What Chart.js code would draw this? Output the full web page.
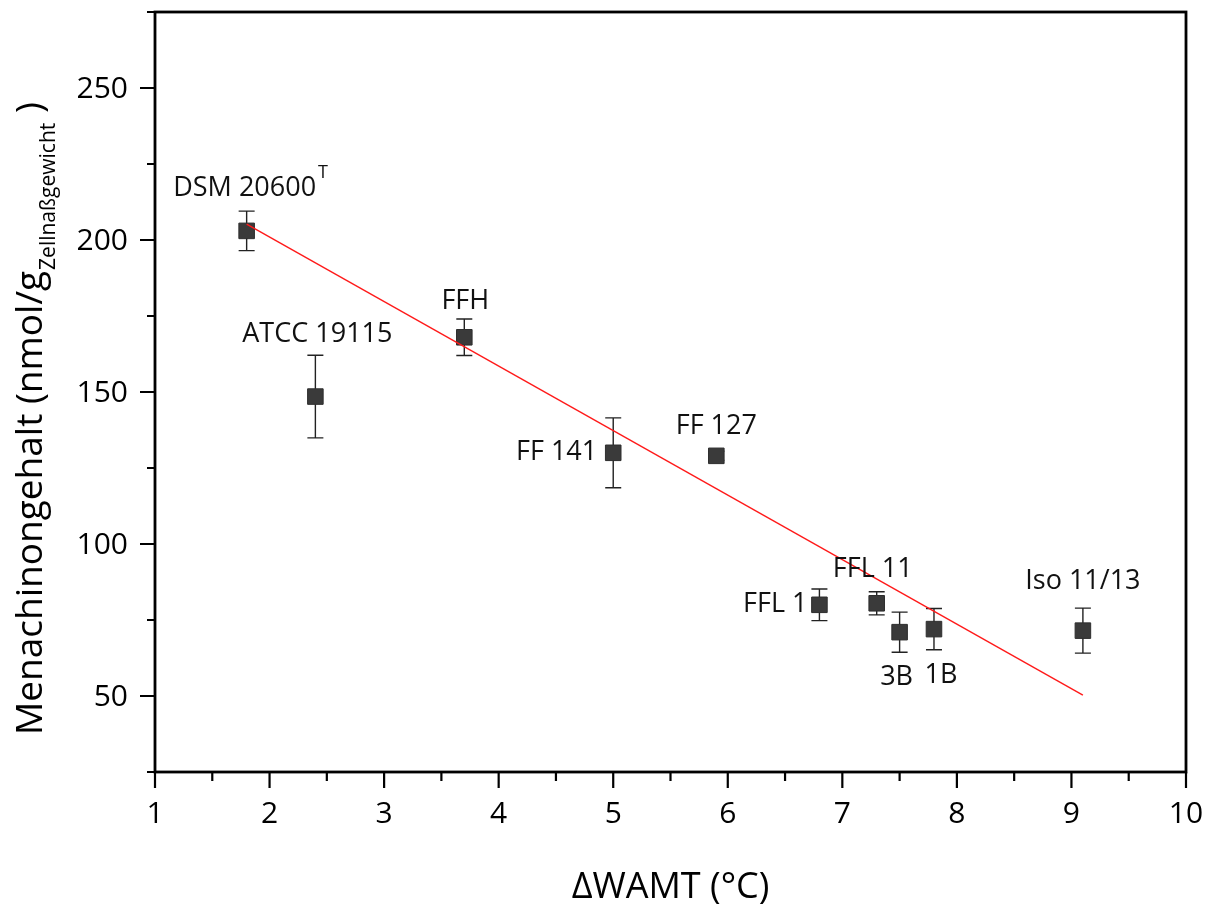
<!DOCTYPE html>
<html lang="de">
<head>
  <meta charset="UTF-8">
  <title>Menachinongehalt vs. ΔWAMT</title>
  <script src="https://cdn.jsdelivr.net/npm/chart.js"></script>
  <style>
    html, body { margin: 0; padding: 0; background: #fff; }
    #wrap { width: 1210px; height: 905px; position: relative; }
  </style>
</head>
<body>
  <div id="wrap"><canvas id="graf"></canvas></div>

  <script>
    /* ---------- Daten ---------- */
    const strains    = ['DSM 20600', 'ATCC 19115', 'FFH', 'FF 141', 'FF 127',
                        'FFL 1', 'FFL 11', '3B', '1B', 'Iso 11/13'];
    const strainSup  = ['T', '', '', '', '', '', '', '', '', ''];
    const deltaWamt  = [1.8, 2.4, 3.7, 5.0, 5.9, 6.8, 7.3, 7.5, 7.8, 9.1];
    const menachinon = [203, 148.5, 168, 130, 129, 80, 80.5, 71, 72, 71.5];
    const fehler     = [6.5, 13.6, 6, 11.5, 1.5, 5.2, 3.8, 6.6, 6.8, 7.4];

    // lineare Regression (Endpunkte)
    const fitX = [1.8, 9.1];
    const fitY = [205.2, 50.3];

    const xMajor = [1, 2, 3, 4, 5, 6, 7, 8, 9, 10];
    const yMajor = [50, 100, 150, 200, 250];

    /* ---------- Beschriftungs-Positionen (px relativ zum Punkt) ---------- */
    const labelPos = [
      { dx: -2,  dy: -43, align: 'center' },
      { dx: 2,   dy: -62, align: 'center' },
      { dx: 1,   dy: -36, align: 'center' },
      { dx: -16, dy: 0,   align: 'right'  },
      { dx: 0,   dy: -30, align: 'center' },
      { dx: -12, dy: 0,   align: 'right'  },
      { dx: -4,  dy: -34, align: 'center' },
      { dx: -3,  dy: 45,  align: 'center' },
      { dx: 7,   dy: 46,  align: 'center' },
      { dx: 0,   dy: -49, align: 'center' }
    ];

    const FONT = '"Open Sans", "Noto Sans", sans-serif';

    /* ---------- Plugin: Fehlerbalken ---------- */
    const errorBars = {
      id: 'errorBars',
      beforeDatasetsDraw(chart) {
        const { ctx, scales: { x, y } } = chart;
        ctx.save();
        ctx.strokeStyle = '#222';
        ctx.lineWidth = 1.4;
        deltaWamt.forEach((v, i) => {
          const px = x.getPixelForValue(v);
          const top = y.getPixelForValue(menachinon[i] + fehler[i]);
          const bot = y.getPixelForValue(menachinon[i] - fehler[i]);
          ctx.beginPath();
          ctx.moveTo(px, top); ctx.lineTo(px, bot);
          ctx.moveTo(px - 8, top); ctx.lineTo(px + 8, top);
          ctx.moveTo(px - 8, bot); ctx.lineTo(px + 8, bot);
          ctx.stroke();
        });
        ctx.restore();
      }
    };

    /* ---------- Plugin: Rahmen, Ticks, Titel, Labels ---------- */
    const deko = {
      id: 'deko',
      afterDraw(chart) {
        const { ctx, chartArea: a, scales: { x, y } } = chart;
        ctx.save();

        // Rahmen
        ctx.strokeStyle = '#000';
        ctx.lineWidth = 2.8;
        ctx.strokeRect(a.left, a.top, a.right - a.left, a.bottom - a.top);

        // Ticks
        ctx.lineWidth = 2.2;
        ctx.beginPath();
        y.ticks.forEach(t => {
          const py = y.getPixelForValue(t.value);
          const len = yMajor.includes(t.value) ? 15 : 8;
          ctx.moveTo(a.left - len, py); ctx.lineTo(a.left, py);
        });
        x.ticks.forEach(t => {
          const px = x.getPixelForValue(t.value);
          const len = xMajor.includes(t.value) ? 16 : 9;
          ctx.moveTo(px, a.bottom); ctx.lineTo(px, a.bottom + len);
        });
        ctx.stroke();

        // Tick-Beschriftung
        ctx.fillStyle = '#000';
        ctx.font = '30px ' + FONT;
        ctx.textBaseline = 'middle';
        ctx.textAlign = 'right';
        yMajor.forEach(v => ctx.fillText(String(v), a.left - 27, y.getPixelForValue(v) + 1));
        ctx.textAlign = 'center';
        xMajor.forEach(v => ctx.fillText(String(v), x.getPixelForValue(v), a.bottom + 42));

        // Punkt-Beschriftungen
        ctx.fillStyle = '#111';
        strains.forEach((s, i) => {
          const p = labelPos[i];
          const px = x.getPixelForValue(deltaWamt[i]) + p.dx;
          const py = y.getPixelForValue(menachinon[i]) + p.dy;
          ctx.font = '27px ' + FONT;
          ctx.textAlign = p.align;
          ctx.fillText(s, px, py);
          if (strainSup[i]) {
            const w = ctx.measureText(s).width;
            const right = p.align === 'center' ? px + w / 2 : (p.align === 'right' ? px : px + w);
            ctx.font = '18px ' + FONT;
            ctx.textAlign = 'left';
            ctx.fillText(strainSup[i], right + 2, py - 15);
          }
        });

        // x-Achsentitel
        ctx.fillStyle = '#000';
        ctx.font = '36px ' + FONT;
        ctx.textAlign = 'center';
        ctx.textBaseline = 'alphabetic';
        ctx.fillText('\u0394WAMT (\u00B0C)', (a.left + a.right) / 2, 898);

        // y-Achsentitel mit Index
        ctx.translate(42, 735);
        ctx.rotate(-Math.PI / 2);
        ctx.textAlign = 'left';
        ctx.font = '37px ' + FONT;
        const t1 = 'Menachinongehalt (nmol/g';
        ctx.fillText(t1, 0, 0);
        let off = ctx.measureText(t1).width + 1;
        ctx.font = '21px ' + FONT;
        const t2 = 'Zellna\u00DFgewicht';
        ctx.fillText(t2, off, 13);
        off += ctx.measureText(t2).width;
        ctx.font = '37px ' + FONT;
        ctx.fillText(' )', off, 0);

        ctx.restore();
      }
    };

    /* ---------- Diagramm ---------- */
    new Chart(document.getElementById('graf'), {
      type: 'scatter',
      data: {
        datasets: [
          {
            type: 'line',
            label: 'Fit',
            data: fitX.map((v, i) => ({ x: v, y: fitY[i] })),
            borderColor: '#ff1a1a',
            borderWidth: 1.4,
            pointRadius: 0,
            fill: false,
            order: 0
          },
          {
            label: 'Menachinongehalt',
            data: deltaWamt.map((v, i) => ({ x: v, y: menachinon[i] })),
            pointStyle: 'rect',
            pointRadius: 11,
            backgroundColor: '#3a3a3a',
            borderColor: '#2e2e2e',
            borderWidth: 1,
            order: 1
          }
        ]
      },
      options: {
        responsive: true,
        maintainAspectRatio: false,
        animation: false,
        layout: { padding: { top: 12, right: 24, left: 0, bottom: 0 } },
        plugins: { legend: { display: false }, tooltip: { enabled: false } },
        scales: {
          x: {
            type: 'linear',
            min: 1, max: 10,
            grid: { display: false },
            border: { display: false },
            ticks: { display: false, stepSize: 0.5, autoSkip: false },
            afterFit: s => { s.height = 133; }
          },
          y: {
            type: 'linear',
            min: 25, max: 275,
            grid: { display: false },
            border: { display: false },
            ticks: { display: false, stepSize: 25, autoSkip: false },
            afterFit: s => { s.width = 155; }
          }
        }
      },
      plugins: [errorBars, deko]
    });
  </script>
</body>
</html>
